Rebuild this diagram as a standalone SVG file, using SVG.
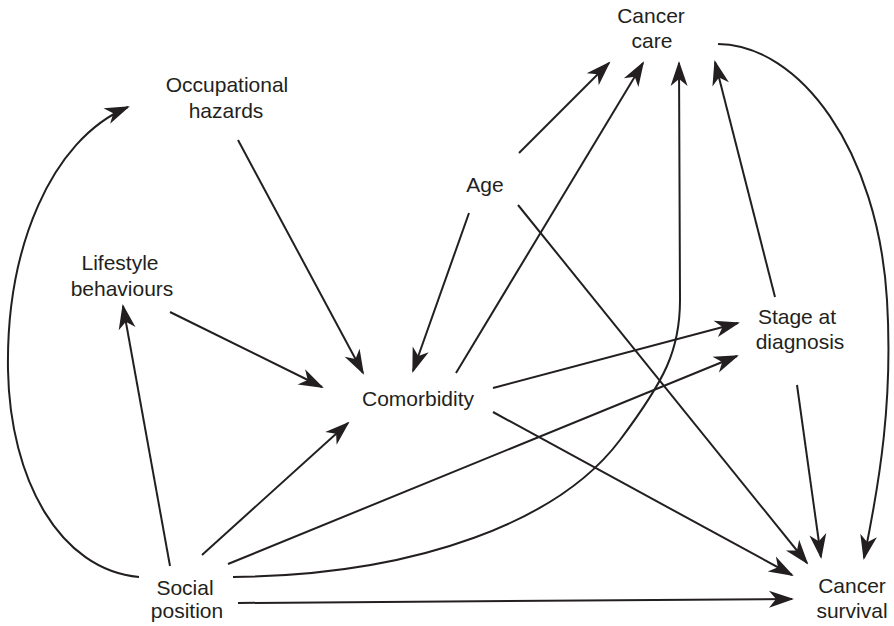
<svg xmlns="http://www.w3.org/2000/svg" width="894" height="626" viewBox="0 0 894 626">
<style>
text{font-family:"Liberation Sans",Arial,sans-serif;font-size:21px;fill:#231f20;text-anchor:middle}
.e{fill:none;stroke:#231f20;stroke-width:2;marker-end:url(#ah)}
</style>
<defs>
<marker id="ah" markerUnits="userSpaceOnUse" viewBox="-26 -10 30 20" refX="0" refY="0" markerWidth="30" markerHeight="20" orient="auto">
<path d="M2,0 L-23,-8.5 L-16,0 L-23,8.5 Z" fill="#231f20"/>
</marker>
</defs>
<rect width="894" height="626" fill="#fff"/>
<g id="edges">
<path class="e" d="M238,140 L363,373"/>
<path class="e" d="M170,312 L322,387"/>
<path class="e" d="M469,213 L413,371"/>
<path class="e" d="M519,153 L609,63"/>
<path class="e" d="M456,373 L643,63"/>
<path class="e" d="M518,205 L807,563"/>
<path class="e" d="M493,388 L738,323"/>
<path class="e" d="M493,412 L792,575"/>
<path class="e" d="M775,297 L715,62"/>
<path class="e" d="M797,385 L821,557"/>
<path class="e" d="M718,44 C800,45 878,150 887,300 C893,400 880,480 864,558"/>
<path class="e" d="M139,577 C60,570 10,480 8,370 C6,250 50,140 128,107"/>
<path class="e" d="M170,566 L123,306"/>
<path class="e" d="M202,555 L348,423"/>
<path class="e" d="M228,564 L737,356"/>
<path class="e" d="M233,577 C420,575 560,520 620,440 C665,380 680,350 680,300 L679,63"/>
<path class="e" d="M238,603 L792,599"/>
</g>
<g id="cancer-care"><text x="651" y="23">Cancer</text><text x="652" y="48">care</text></g>
<g id="occupational-hazards"><text x="227" y="92">Occupational</text><text x="226" y="118">hazards</text></g>
<g id="age"><text x="485" y="192">Age</text></g>
<g id="lifestyle-behaviours"><text x="120" y="270">Lifestyle</text><text x="122" y="296">behaviours</text></g>
<g id="comorbidity"><text x="418" y="406">Comorbidity</text></g>
<g id="stage-at-diagnosis"><text x="797" y="324">Stage at</text><text x="800" y="349">diagnosis</text></g>
<g id="social-position"><text x="185" y="595">Social</text><text x="187" y="618">position</text></g>
<g id="cancer-survival"><text x="852" y="593">Cancer</text><text x="852" y="618">survival</text></g>
</svg>
